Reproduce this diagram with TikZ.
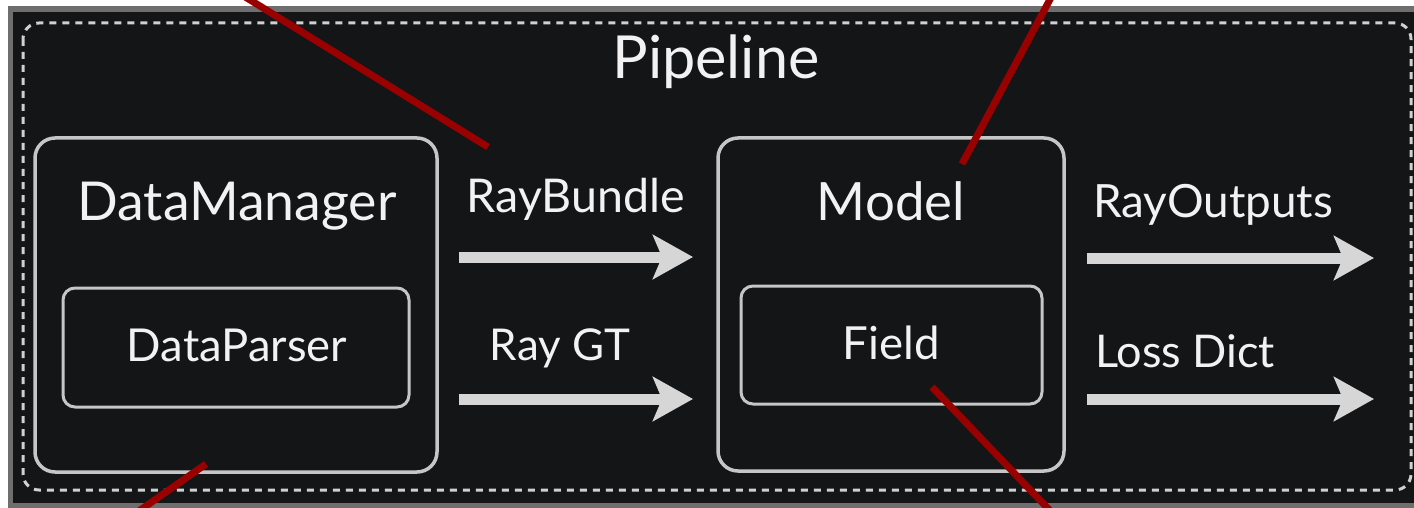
\documentclass[tikz,border=0pt]{standalone}
\usepackage{fontspec}
\setmainfont{Lato}
\usetikzlibrary{arrows.meta}
\definecolor{bgdark}{HTML}{141517}
\definecolor{framegray}{HTML}{6E6E6E}
\definecolor{boxline}{HTML}{C6C6C6}
\definecolor{dashline}{HTML}{D0D0D0}
\definecolor{txt}{HTML}{F2F2F2}
\definecolor{arrowgray}{HTML}{D6D6D6}
\definecolor{redline}{HTML}{990000}
\newcommand{\fitw}[2]{\resizebox{#1pt}{!}{#2}}
\tikzset{
  bigbox/.style={draw=boxline, line width=3.5pt, rounded corners=20pt, inner sep=0pt},
  smallbox/.style={draw=boxline, line width=3pt, rounded corners=12pt, inner sep=0pt},
  lbl/.style={text=txt, anchor=base, inner sep=0pt, outer sep=0pt},
  flow/.style={draw=arrowgray, line width=11pt, -{Stealth[length=40pt,width=44pt,inset=9pt]}},
  pointer/.style={draw=redline, line width=7pt},
  pipe/.style={draw=dashline, line width=3pt, dash pattern=on 7pt off 6pt, rounded corners=16pt}
}
\begin{document}
\begin{tikzpicture}[x=1pt, y=-1pt]
\useasboundingbox (0,0) rectangle (1414,508);
\clip (0,0) rectangle (1414,508);
\fill[white] (0,0) rectangle (1414,508);
\fill[framegray] (8,6) rectangle (1430,520);
\fill[bgdark] (13,12) rectangle (1430,503);
% pipeline dashed frame
\draw[pipe] (23,23) rectangle (1411,490);
\node[lbl] (pipeline) at (716,79) {\fitw{207}{Pipeline}};
% DataManager
\node[bigbox, minimum width=402pt, minimum height=334pt] (dm) at (236,305) {};
\node[lbl] (dmlabel) at (237,221) {\fitw{319}{DataManager}};
\node[smallbox, minimum width=346pt, minimum height=119pt] (dp) at (236,347.5) {};
\node[lbl] (dplabel) at (237,361) {\fitw{220}{DataParser}};
% Model
\node[bigbox, minimum width=346pt, minimum height=333pt] (model) at (891,304.5) {};
\node[lbl] (modellabel) at (891,220) {\fitw{148}{Model}};
\node[smallbox, minimum width=301pt, minimum height=118pt] (field) at (891.5,345) {};
\node[lbl] (fieldlabel) at (891,359) {\fitw{97}{Field}};
% arrows and labels
\coordinate (rb1) at (459,257); \coordinate (rb2) at (693,257);
\coordinate (gt1) at (459,399); \coordinate (gt2) at (693,399);
\coordinate (ro1) at (1087,258); \coordinate (ro2) at (1374,258);
\coordinate (ld1) at (1087,399); \coordinate (ld2) at (1374,399);
\draw[flow] (rb1) -- (rb2);
\draw[flow] (gt1) -- (gt2);
\draw[flow] (ro1) -- (ro2);
\draw[flow] (ld1) -- (ld2);
\node[lbl] (rblabel) at (576,212) {\fitw{218}{RayBundle}};
\node[lbl] (gtlabel) at (560,360) {\fitw{140}{Ray GT}};
\node[lbl] (rolabel) at (1213,218) {\fitw{240}{RayOutputs}};
\node[lbl] (ldlabel) at (1185,367) {\fitw{180}{Loss Dict}};
% red pointers
\coordinate (p1a) at (488,147); \coordinate (p1b) at (234,-10);
\coordinate (p2a) at (962,164); \coordinate (p2b) at (1055,-10);
\coordinate (p3a) at (206,464); \coordinate (p3b) at (129,518);
\coordinate (p4a) at (932,387); \coordinate (p4b) at (1057,518);
\draw[pointer] (p1a) -- (p1b);
\draw[pointer] (p2a) -- (p2b);
\draw[pointer] (p3a) -- (p3b);
\draw[pointer] (p4a) -- (p4b);
\end{tikzpicture}
\end{document}
